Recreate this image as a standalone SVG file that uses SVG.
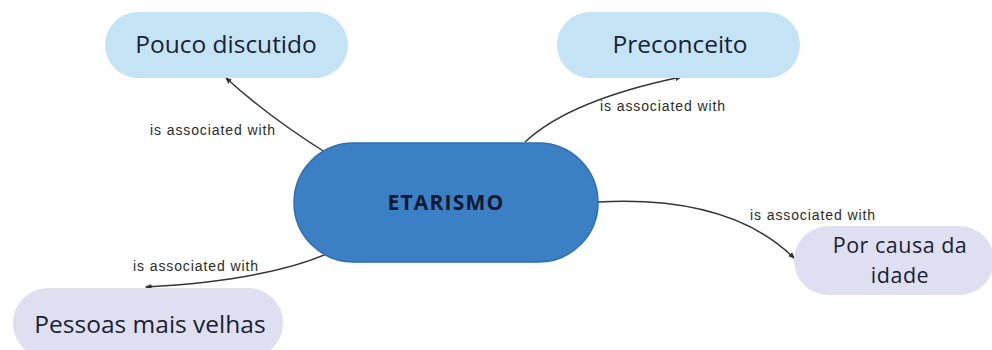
<svg xmlns="http://www.w3.org/2000/svg" width="992" height="350" viewBox="0 0 992 350">
<style>
.lb{fill:#c4e4f6}
.lv{fill:#dedff1}
.nt{font-family:"Open Sans","Noto Sans",sans-serif;font-size:24.5px;fill:#1c2233;text-anchor:middle}
.nt2{font-family:"Open Sans","Noto Sans",sans-serif;font-size:21.5px;letter-spacing:0.5px;fill:#1c2233;text-anchor:middle}
.el{font-family:"Liberation Sans",Arial,sans-serif;font-size:14px;letter-spacing:0.9px;fill:#2b2b2b}
.c{fill:none;stroke:#333;stroke-width:1.4}
</style>
<defs>
<marker id="ah" viewBox="0 0 10 10" refX="8" refY="5" markerWidth="5" markerHeight="5" orient="auto-start-reverse">
<path d="M0,1 L10,5 L0,9 z" fill="#333"/>
</marker>
</defs>
<rect width="992" height="350" fill="#ffffff"/>
<g id="connectors">
<path class="c" d="M328,154 Q270,118 226,78" marker-end="url(#ah)"/>
<path class="c" d="M525,142 Q570,100 681,77" marker-end="url(#ah)"/>
<path class="c" d="M598,202 Q730,195 794,258" marker-end="url(#ah)"/>
<path class="c" d="M331,252 Q270,280 146,287" marker-end="url(#ah)"/>
<text class="el" x="150" y="135">is associated with</text>
<text class="el" x="600" y="111">is associated with</text>
<text class="el" x="750" y="220">is associated with</text>
<text class="el" x="133" y="271">is associated with</text>
</g>
<g id="node-pouco">
<rect class="lb" x="105" y="12" width="243" height="66" rx="33"/>
<text class="nt" x="226" y="53">Pouco discutido</text>
</g>
<g id="node-preconceito">
<rect class="lb" x="557" y="12" width="243" height="66" rx="33"/>
<text class="nt" x="680" y="53">Preconceito</text>
</g>
<g id="node-etarismo">
<rect x="294" y="143" width="304" height="119" rx="59.5" fill="#3b7fc5" stroke="#2f6eb0" stroke-width="1.5"/>
<text x="446" y="210" font-family="'Open Sans','Noto Sans',sans-serif" font-size="21" font-weight="bold" letter-spacing="1.2" fill="#101830" text-anchor="middle">ETARISMO</text>
</g>
<g id="node-porcausa">
<rect class="lv" x="794" y="226" width="200" height="69" rx="34.5"/>
<text class="nt2" x="900" y="253">Por causa da</text>
<text class="nt2" x="900" y="283">idade</text>
</g>
<g id="node-pessoas">
<rect class="lv" x="13" y="288" width="270" height="70" rx="35"/>
<text class="nt" x="150" y="333">Pessoas mais velhas</text>
</g>
</svg>
